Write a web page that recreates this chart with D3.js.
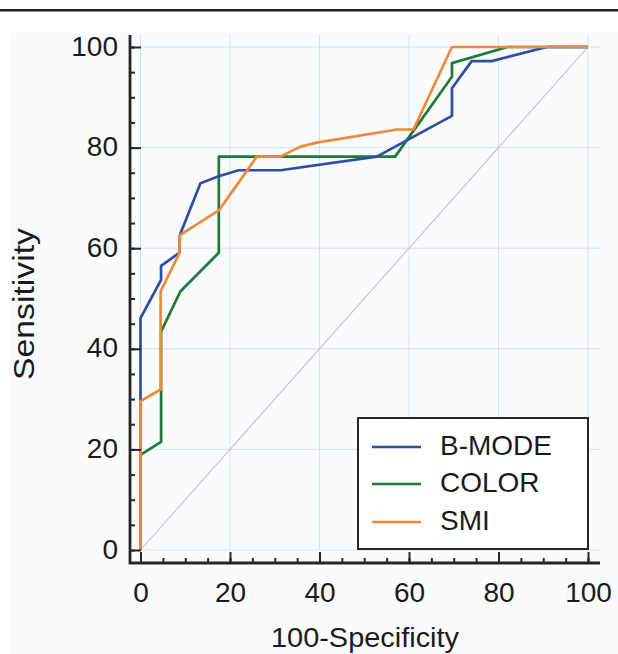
<!DOCTYPE html>
<html>
<head>
<meta charset="utf-8">
<script src="https://cdn.jsdelivr.net/npm/d3@7"></script>
<style>
  html, body { margin: 0; padding: 0; background: #ffffff; }
  svg { display: block; }
  text { font-family: "Liberation Sans", Arial, sans-serif; fill: #1a1a1a; }
</style>
</head>
<body>
<svg id="chart" width="618" height="654"></svg>
<script>
// ---- data ----
const seriesNames = ["B-MODE", "COLOR", "SMI"];
const seriesColors = ["#2c4ea4", "#1e7a36", "#f2893a"];

const bmodeX = [0, 0, 4.6, 4.6, 8.7, 8.8, 13.4, 17.5, 21.9, 31.3, 52.8, 69.6, 69.6, 74.0, 78.5, 90.8, 100];
const bmodeY = [0, 46.1, 53.7, 56.5, 59.1, 62.6, 72.9, 74.3, 75.5, 75.5, 78.2, 86.3, 91.8, 97.2, 97.2, 100, 100];

const colorX = [0, 0, 4.6, 4.6, 8.9, 17.5, 17.5, 56.9, 69.6, 69.6, 82.0, 100];
const colorY = [0, 18.9, 21.5, 43.4, 51.4, 59.1, 78.2, 78.2, 94.1, 96.8, 100, 100];

const smiX = [0, 0, 4.5, 4.5, 8.7, 8.8, 17.5, 26.0, 31.3, 35.7, 39.4, 57.3, 61.0, 69.6, 100];
const smiY = [0, 29.6, 31.9, 51.4, 59.0, 62.6, 67.5, 78.2, 78.2, 80.2, 81.0, 83.6, 83.6, 100, 100];

const refX = [0, 100];
const refY = [0, 100];

const xTicks = [0, 20, 40, 60, 80, 100];
const yTicks = [0, 20, 40, 60, 80, 100];
const minorTicks = d3.range(0, 101, 5);

const xTitle = "100-Specificity";
const yTitle = "Sensitivity";

// ---- drawing ----
const svg = d3.select("#chart");

// top rule and faint page background
svg.append("rect").attr("x", 10).attr("y", 33).attr("width", 608).attr("height", 621).attr("fill", "#fafbfc");
svg.append("rect").attr("x", 0).attr("y", 9).attr("width", 618).attr("height", 2.5).attr("fill", "#1f1f1f");

const x = d3.scaleLinear().domain([0, 100]).range([140.5, 588]);
const y = d3.scaleLinear().domain([0, 100]).range([550, 47]);

const axisX = 130, axisY = 563;

// grid
const grid = svg.append("g").attr("stroke", "#dbe2ea").attr("stroke-width", 1);
grid.selectAll("line.h").data(yTicks).join("line")
  .attr("x1", x(0)).attr("x2", 600)
  .attr("y1", d => y(d)).attr("y2", d => y(d));
grid.selectAll("line.v").data(xTicks).join("line")
  .attr("x1", d => x(d)).attr("x2", d => x(d))
  .attr("y1", 35).attr("y2", y(0));

// reference diagonal
const line = d3.line().x(d => x(d[0])).y(d => y(d[1]));
svg.append("path")
  .datum(refX.map((v, i) => [v, refY[i]]))
  .attr("d", line).attr("fill", "none")
  .attr("stroke", "#c9bfd3").attr("stroke-width", 1.1);

// ROC curves
const allX = [bmodeX, colorX, smiX];
const allY = [bmodeY, colorY, smiY];
const drawOrder = [1, 0, 2];
drawOrder.forEach(i => {
  svg.append("path")
    .datum(allX[i].map((v, j) => [v, allY[i][j]]))
    .attr("d", line).attr("fill", "none")
    .attr("stroke", seriesColors[i]).attr("stroke-width", 2.7)
    .attr("stroke-linejoin", "round");
});

// axes
const axColor = "#262626";
const yAxis = d3.axisLeft(y).tickValues(yTicks).tickSizeInner(-11).tickSizeOuter(0).tickPadding(12);
const yMinor = d3.axisLeft(y).tickValues(minorTicks).tickSizeInner(-5).tickSizeOuter(0).tickFormat("");
const xAxis = d3.axisBottom(x).tickValues(xTicks).tickSizeInner(-11).tickSizeOuter(0).tickPadding(19);
const xMinor = d3.axisBottom(x).tickValues(minorTicks).tickSizeInner(-5).tickSizeOuter(0).tickFormat("");

function styleAxis(g) {
  g.select(".domain").remove();
  g.selectAll(".tick line").attr("stroke", axColor).attr("stroke-width", 2);
  g.selectAll(".tick text").attr("font-size", 28).attr("fill", "#1a1a1a")
    .style("font-family", '"Liberation Sans", Arial, sans-serif');
}

svg.append("g").attr("transform", `translate(${axisX},0)`).call(yMinor).call(styleAxis);
svg.append("g").attr("transform", `translate(${axisX},0)`).call(yAxis).call(styleAxis)
  .selectAll(".tick text").attr("dy", "0.29em");
svg.append("g").attr("transform", `translate(0,${axisY})`).call(xMinor).call(styleAxis);
svg.append("g").attr("transform", `translate(0,${axisY})`).call(xAxis).call(styleAxis);

// axis lines (L-shaped, offset from plot area)
svg.append("path")
  .attr("d", `M${axisX},35 V${axisY} H600`)
  .attr("fill", "none").attr("stroke", axColor).attr("stroke-width", 2.8);

// axis titles
svg.append("text")
  .attr("x", 365).attr("y", 647)
  .attr("text-anchor", "middle").attr("font-size", 28)
  .attr("textLength", 188).attr("lengthAdjust", "spacingAndGlyphs")
  .text(xTitle);

svg.append("text")
  .attr("transform", "translate(34,304) rotate(-90)")
  .attr("text-anchor", "middle").attr("font-size", 30)
  .attr("textLength", 152).attr("lengthAdjust", "spacingAndGlyphs")
  .text(yTitle);

// legend
const legend = svg.append("g");
legend.append("rect")
  .attr("x", 358).attr("y", 418).attr("width", 230).attr("height", 131)
  .attr("fill", "#ffffff").attr("stroke", "#262626").attr("stroke-width", 2);
const legendRows = [447, 484, 522];
seriesNames.forEach((name, i) => {
  legend.append("line")
    .attr("x1", 372).attr("x2", 421)
    .attr("y1", legendRows[i]).attr("y2", legendRows[i])
    .attr("stroke", seriesColors[i]).attr("stroke-width", 2.4);
  legend.append("text")
    .attr("x", 440).attr("y", legendRows[i] + 8)
    .attr("font-size", 28)
    .text(name);
});
</script>
</body>
</html>
